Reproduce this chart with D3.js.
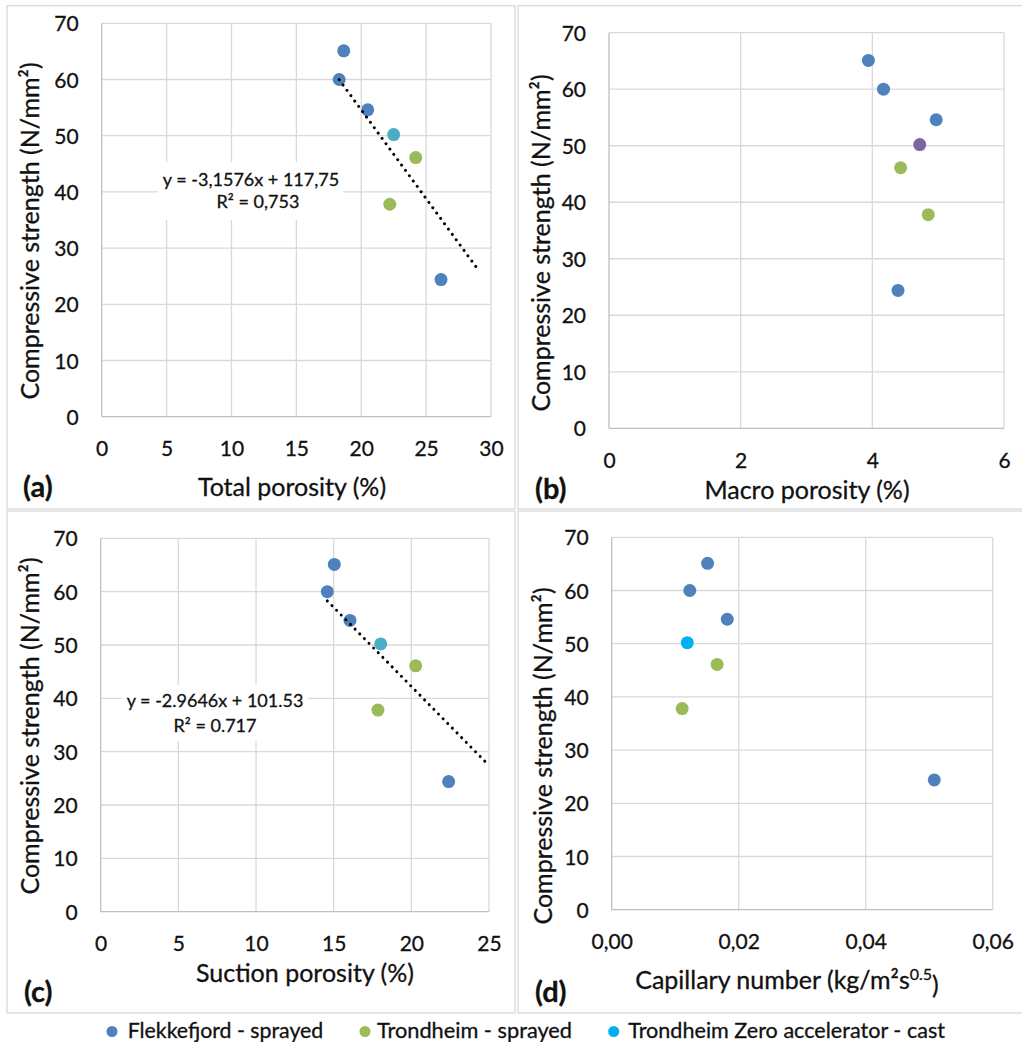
<!DOCTYPE html>
<html><head><meta charset="utf-8">
<script src="https://cdn.jsdelivr.net/npm/d3@7"></script>
<style>
html,body{margin:0;padding:0;background:#fff;}
svg{display:block;font-family:Lato, "Open Sans", sans-serif;}
svg text{fill:#111;stroke:#111;stroke-width:0.3px;}
</style></head>
<body>
<svg id="chart" width="1022" height="1042"></svg>
<script>
// ---- data ----
const seriesNames = ["Flekkefjord - sprayed", "Trondheim - sprayed", "Trondheim Zero accelerator - cast"];
const flekkefjordStrength = [65.1, 60.0, 54.6, 24.4];
const flekkefjordTotal    = [18.65, 18.3, 20.5, 26.15];
const flekkefjordMacro    = [3.94, 4.17, 4.97, 4.39];
const flekkefjordSuction  = [15.04, 14.59, 16.05, 22.4];
const flekkefjordCapillary= [0.0151, 0.0123, 0.0182, 0.0508];
const trondheimStrength   = [46.1, 37.8];
const trondheimTotal      = [24.2, 22.2];
const trondheimMacro      = [4.43, 4.85];
const trondheimSuction    = [20.28, 17.85];
const trondheimCapillary  = [0.0166, 0.0111];
const zeroStrength        = [50.2];
const zeroTotal           = [22.5];
const zeroMacro           = [4.72];
const zeroSuction         = [18.03];
const zeroCapillary       = [0.0119];
const yTicks = [0, 10, 20, 30, 40, 50, 60, 70];
const xTicksTotal = [0, 5, 10, 15, 20, 25, 30];
const xTicksMacro = [0, 2, 4, 6];
const xTicksSuction = [0, 5, 10, 15, 20, 25];
const xTicksCapillary = [0, 0.02, 0.04, 0.06];
// trendlines: [slope, intercept, xStart, xEnd]
const trendTotal   = [-3.1576, 117.75, 18.3, 29];
const trendSuction = [-2.9646, 101.53, 14.59, 25];
const eqTotal   = ["y = -3,1576x + 117,75", "R² = 0,753"];
const eqSuction = ["y = -2.9646x + 101.53", "R² = 0.717"];

const colBlue = "#4F81BD", colGreen = "#9BBB59", colAqua = "#4BACC6", colPurple = "#8064A2", colCyan = "#00B0F0";

const svg = d3.select("#chart");
const commaLocale = d3.formatLocale({decimal: ",", thousands: ".", grouping: [3], currency: ["", ""]});

// panel borders
const borders = [[7, 5.7, 515, 509], [518, 5.7, 1023, 509], [7, 511, 515, 1013], [518, 511, 1023, 1013]];
svg.selectAll("rect.border").data(borders).join("rect")
  .attr("x", d => d[0]).attr("y", d => d[1])
  .attr("width", d => d[2] - d[0]).attr("height", d => d[3] - d[1])
  .attr("fill", "none").attr("stroke", "#d9d9d9").attr("stroke-width", 1.3);

function panel(cfg) {
  const g = svg.append("g");
  const x = d3.scaleLinear().domain(cfg.xDomain).range([cfg.left, cfg.right]);
  const y = d3.scaleLinear().domain([0, 70]).range([cfg.bottom, cfg.top]);
  // gridlines
  g.append("g").selectAll("line").data(yTicks.slice(1)).join("line")
    .attr("x1", cfg.left).attr("x2", cfg.right).attr("y1", d => y(d)).attr("y2", d => y(d))
    .attr("stroke", "#d9d9d9").attr("stroke-width", 1.3);
  g.append("g").selectAll("line").data(cfg.xTicks.slice(1)).join("line")
    .attr("y1", cfg.top).attr("y2", cfg.bottom).attr("x1", d => x(d)).attr("x2", d => x(d))
    .attr("stroke", "#d9d9d9").attr("stroke-width", 1.3);
  // axis lines
  g.append("line").attr("x1", cfg.left).attr("x2", cfg.right).attr("y1", cfg.bottom).attr("y2", cfg.bottom)
    .attr("stroke", "#bfbfbf").attr("stroke-width", 1.3);
  g.append("line").attr("x1", cfg.left).attr("x2", cfg.left).attr("y1", cfg.top).attr("y2", cfg.bottom)
    .attr("stroke", "#bfbfbf").attr("stroke-width", 1.3);
  // equation label background
  if (cfg.eq) {
    g.append("rect").attr("x", cfg.eqBox[0]).attr("y", cfg.eqBox[1])
      .attr("width", cfg.eqBox[2] - cfg.eqBox[0]).attr("height", cfg.eqBox[3] - cfg.eqBox[1]).attr("fill", "#fff");
  }
  // axes (labels only)
  const xa = g.append("g").attr("transform", `translate(0,${cfg.bottom})`)
    .call(d3.axisBottom(x).tickValues(cfg.xTicks).tickSize(0).tickFormat(cfg.xFormat));
  xa.select(".domain").remove();
  xa.selectAll("text").attr("y", 32).attr("dy", "0.35em").attr("font-size", 21)
    .attr("font-family", "Lato, sans-serif");
  const ya = g.append("g").attr("transform", `translate(${cfg.left},0)`)
    .call(d3.axisLeft(y).tickValues(yTicks).tickSize(0).tickPadding(23));
  ya.select(".domain").remove();
  ya.selectAll("text").attr("font-size", 21).attr("dy", "0.36em")
    .attr("font-family", "Lato, sans-serif");
  // markers
  const groups = [
    [cfg.xs[0], flekkefjordStrength, colBlue],
    [cfg.xs[1], trondheimStrength, colGreen],
    [cfg.xs[2], zeroStrength, cfg.zeroColor]
  ];
  groups.forEach(([xv, yv, c]) => {
    g.append("g").selectAll("circle").data(xv.map((v, i) => [v, yv[i]])).join("circle")
      .attr("cx", d => x(d[0])).attr("cy", d => y(d[1])).attr("r", 6.5).attr("fill", c);
  });
  // trendline
  if (cfg.trend) {
    const [m, b, x0, x1] = cfg.trend;
    g.append("line").attr("x1", x(x0)).attr("y1", y(m * x0 + b)).attr("x2", x(x1)).attr("y2", y(m * x1 + b))
      .attr("stroke", "#000").attr("stroke-width", 3).attr("stroke-linecap", "round")
      .attr("stroke-dasharray", "0.01 6.6");
  }
  if (cfg.eq) {
    g.append("text").attr("x", cfg.eqPos[0][0]).attr("y", cfg.eqPos[0][1]).attr("dy", "0.35em")
      .attr("text-anchor", "middle").attr("font-size", 18).text(cfg.eq[0]);
    g.append("text").attr("x", cfg.eqPos[1][0]).attr("y", cfg.eqPos[1][1]).attr("dy", "0.35em")
      .attr("text-anchor", "middle").attr("font-size", 18).text(cfg.eq[1]);
  }
  // x title
  const xt = g.append("text").attr("x", cfg.xTitlePos[0]).attr("y", cfg.xTitlePos[1]).attr("dy", "0.35em")
    .attr("text-anchor", "middle").attr("font-size", 25);
  cfg.xTitle(xt);
  // y title
  g.append("text").attr("transform", `translate(${cfg.yTitlePos[0]},${cfg.yTitlePos[1]}) rotate(-90)`)
    .attr("dy", "0.35em").attr("text-anchor", "middle").attr("font-size", 25)
    .text("Compressive strength (N/mm²)");
  // panel letter
  g.append("text").attr("x", cfg.letterPos[0]).attr("y", cfg.letterPos[1]).attr("dy", "0.36em")
    .attr("font-size", 29).attr("font-weight", "bold").text(cfg.letter);
}

panel({
  left: 101.7, right: 491, top: 23.3, bottom: 416.7, xDomain: [0, 30], xTicks: xTicksTotal,
  xFormat: d3.format("d"),
  xs: [flekkefjordTotal, trondheimTotal, zeroTotal], zeroColor: colAqua,
  trend: trendTotal, eq: eqTotal, eqPos: [[251, 180], [258, 202]], eqBox: [158, 162, 343, 220],
  xTitle: t => t.text("Total porosity (%)"), xTitlePos: [292, 487],
  yTitlePos: [30, 231], letter: "(a)", letterPos: [23, 487]
});
panel({
  left: 609, right: 1004, top: 32.7, bottom: 428.3, xDomain: [0, 6], xTicks: xTicksMacro,
  xFormat: d3.format("d"),
  xs: [flekkefjordMacro, trondheimMacro, zeroMacro], zeroColor: colPurple,
  xTitle: t => t.text("Macro porosity (%)"), xTitlePos: [807, 490],
  yTitlePos: [541, 243], letter: "(b)", letterPos: [535, 489]
});
panel({
  left: 100.7, right: 489, top: 538.3, bottom: 911.7, xDomain: [0, 25], xTicks: xTicksSuction,
  xFormat: d3.format("d"),
  xs: [flekkefjordSuction, trondheimSuction, zeroSuction], zeroColor: colAqua,
  trend: trendSuction, eq: eqSuction, eqPos: [[215, 701], [215, 725.7]], eqBox: [121.7, 685, 308.3, 741],
  xTitle: t => t.text("Suction porosity (%)"), xTitlePos: [305, 973],
  yTitlePos: [30, 726], letter: "(c)", letterPos: [24, 992]
});
panel({
  left: 611.7, right: 992.7, top: 537.3, bottom: 909.7, xDomain: [0, 0.06], xTicks: xTicksCapillary,
  xFormat: commaLocale.format(".2f"),
  xs: [flekkefjordCapillary, trondheimCapillary, zeroCapillary], zeroColor: colCyan,
  xTitle: t => {
    t.append("tspan").text("Capillary number (kg/m²s");
    t.append("tspan").attr("font-size", 16).attr("dy", "-0.55em").text("0.5");
    t.append("tspan").attr("dy", "0.55em").text(")");
  },
  xTitlePos: [787, 980],
  yTitlePos: [543, 756], letter: "(d)", letterPos: [535, 992]
});

// legend
const legend = svg.append("g");
legend.append("rect").attr("x", 90).attr("y", 1014.7).attr("width", 865).attr("height", 30).attr("fill", "#fff");
const legendItems = [
  {name: seriesNames[0], color: colBlue, mx: 112, tx: 127.7, tw: 195.6},
  {name: seriesNames[1], color: colGreen, mx: 365, tx: 377, tw: 195},
  {name: seriesNames[2], color: colCyan, mx: 613.7, tx: 628.3, tw: 316.7}
];
legendItems.forEach(it => {
  legend.append("circle").attr("cx", it.mx).attr("cy", 1031.5).attr("r", 5.5).attr("fill", it.color);
  legend.append("text").attr("x", it.tx).attr("y", 1037.5).attr("font-size", 21)
    .attr("textLength", it.tw).attr("lengthAdjust", "spacingAndGlyphs").text(it.name);
});
</script>
</body></html>
